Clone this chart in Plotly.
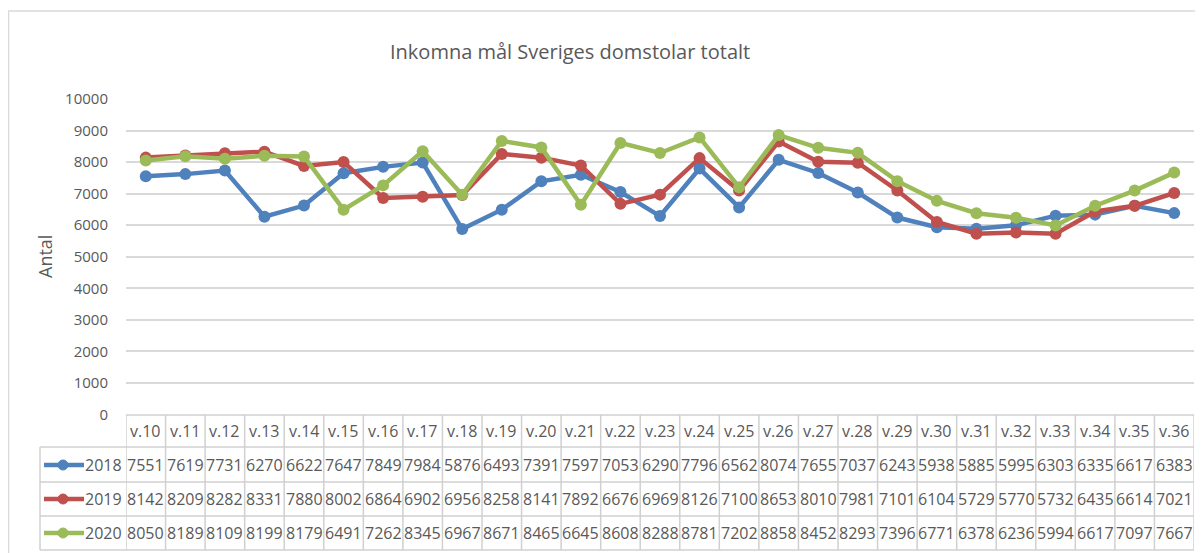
import plotly.graph_objects as go

weeks = ["v.10","v.11","v.12","v.13","v.14","v.15","v.16","v.17","v.18","v.19","v.20","v.21","v.22","v.23",
         "v.24","v.25","v.26","v.27","v.28","v.29","v.30","v.31","v.32","v.33","v.34","v.35","v.36"]
y2018 = [7551,7619,7731,6270,6622,7647,7849,7984,5876,6493,7391,7597,7053,6290,7796,6562,8074,7655,7037,6243,5938,5885,5995,6303,6335,6617,6383]
y2019 = [8142,8209,8282,8331,7880,8002,6864,6902,6956,8258,8141,7892,6676,6969,8126,7100,8653,8010,7981,7101,6104,5729,5770,5732,6435,6614,7021]
y2020 = [8050,8189,8109,8199,8179,6491,7262,8345,6967,8671,8465,6645,8608,8288,8781,7202,8858,8452,8293,7396,6771,6378,6236,5994,6617,7097,7667]
series_names = ["2018", "2019", "2020"]
series_vals = [y2018, y2019, y2020]
colors = ["#4F81BD", "#C0504D", "#9BBB59"]
title = "Inkomna mål Sveriges domstolar totalt"
ytitle = "Antal"

# page body has an 8px margin; figure is laid out in window pixels minus that offset
OFF = 8
W, H = 1203 - OFF, 553 - OFF
def px(x): return (x - OFF) / W
def py(y): return 1 - (y - OFF) / H

FONT = "Open Sans, Noto Sans, sans-serif"
TXT = "#595959"
GRID = "#d9d9d9"
TBL = "#d0d0d0"

fig = go.Figure()
for name, vals, c in zip(series_names, series_vals, colors):
    fig.add_trace(go.Scatter(x=weeks, y=vals, name=name, mode="lines+markers",
                             line=dict(color=c, width=4.5), marker=dict(color=c, size=12),
                             showlegend=False, cliponaxis=False))

shapes = []
annotations = []

row_lines = [415, 447, 482, 516, 550]
row_centers = [431, 465, 499, 533]
x_left = 40
x_plot_left = 126
x_plot_right = 1194

shapes.append(dict(type="line", xref="paper", yref="paper", x0=px(x_plot_left), x1=px(x_plot_right),
                   y0=py(row_lines[0]), y1=py(row_lines[0]), line=dict(color=TBL, width=1.5)))
for yl in row_lines[1:]:
    shapes.append(dict(type="line", xref="paper", yref="paper", x0=px(x_left), x1=px(x_plot_right),
                       y0=py(yl), y1=py(yl), line=dict(color=TBL, width=1.5)))
for i in range(len(weeks) + 1):
    shapes.append(dict(type="line", xref="x", yref="paper", x0=i - 0.5, x1=i - 0.5,
                       y0=py(row_lines[0]), y1=py(row_lines[-1]), line=dict(color=TBL, width=1.5)))
shapes.append(dict(type="line", xref="paper", yref="paper", x0=px(x_left), x1=px(x_left),
                   y0=py(row_lines[1]), y1=py(row_lines[-1]), line=dict(color=TBL, width=1.5)))

for w in weeks:
    annotations.append(dict(x=w, y=py(row_centers[0]), xref="x", yref="paper", text=w, showarrow=False,
                            font=dict(family=FONT, size=16, color=TXT), xanchor="center", yanchor="middle"))
for r, (name, vals, c) in enumerate(zip(series_names, series_vals, colors)):
    yc = row_centers[r + 1]
    for w, v in zip(weeks, vals):
        annotations.append(dict(x=w, y=py(yc), xref="x", yref="paper", text=str(v), showarrow=False,
                                font=dict(family=FONT, size=16, color=TXT), xanchor="center", yanchor="middle"))
    annotations.append(dict(x=px(124), y=py(yc), xref="paper", yref="paper", text=name, showarrow=False,
                            font=dict(family=FONT, size=16, color=TXT), xanchor="right", yanchor="middle"))
    shapes.append(dict(type="line", xref="paper", yref="paper", x0=px(44), x1=px(84), y0=py(yc), y1=py(yc),
                       line=dict(color=c, width=4.5)))
    shapes.append(dict(type="circle", xref="paper", yref="paper", x0=px(58), x1=px(68),
                       y0=py(yc - 5), y1=py(yc + 5), fillcolor=c, line=dict(color=c, width=1)))

shapes.append(dict(type="line", xref="paper", yref="paper", x0=px(8), x1=1.0, y0=py(11), y1=py(11),
                   line=dict(color=GRID, width=1.5)))
shapes.append(dict(type="line", xref="paper", yref="paper", x0=px(8.5), x1=px(8.5), y0=py(11), y1=0,
                   line=dict(color=GRID, width=1.5)))

annotations.append(dict(x=px(570), y=py(51), xref="paper", yref="paper", text=title, showarrow=False,
                        font=dict(family=FONT, size=20, color=TXT), xanchor="center", yanchor="middle"))
annotations.append(dict(x=px(45), y=py(257), xref="paper", yref="paper", text=ytitle, showarrow=False,
                        textangle=-90, font=dict(family=FONT, size=18, color=TXT),
                        xanchor="center", yanchor="middle"))

fig.update_layout(
    width=W, height=H, margin=dict(l=0, r=0, t=0, b=0, autoexpand=False),
    paper_bgcolor="white", plot_bgcolor="white",
    xaxis=dict(domain=[px(x_plot_left), px(x_plot_right)], range=[-0.5, len(weeks) - 0.5],
               showticklabels=False, showgrid=False, zeroline=False, showline=False, ticks="",
               automargin=False),
    yaxis=dict(domain=[py(414.5), py(99)], range=[0, 10000], dtick=1000, tickformat="d",
               showgrid=True, gridcolor=GRID, gridwidth=1.5, zeroline=False, showline=False,
               ticks="outside", ticklen=14, tickcolor="rgba(0,0,0,0)",
               tickfont=dict(family=FONT, size=15, color=TXT), automargin=False),
    shapes=shapes, annotations=annotations,
)

fig.write_html("out.html")
